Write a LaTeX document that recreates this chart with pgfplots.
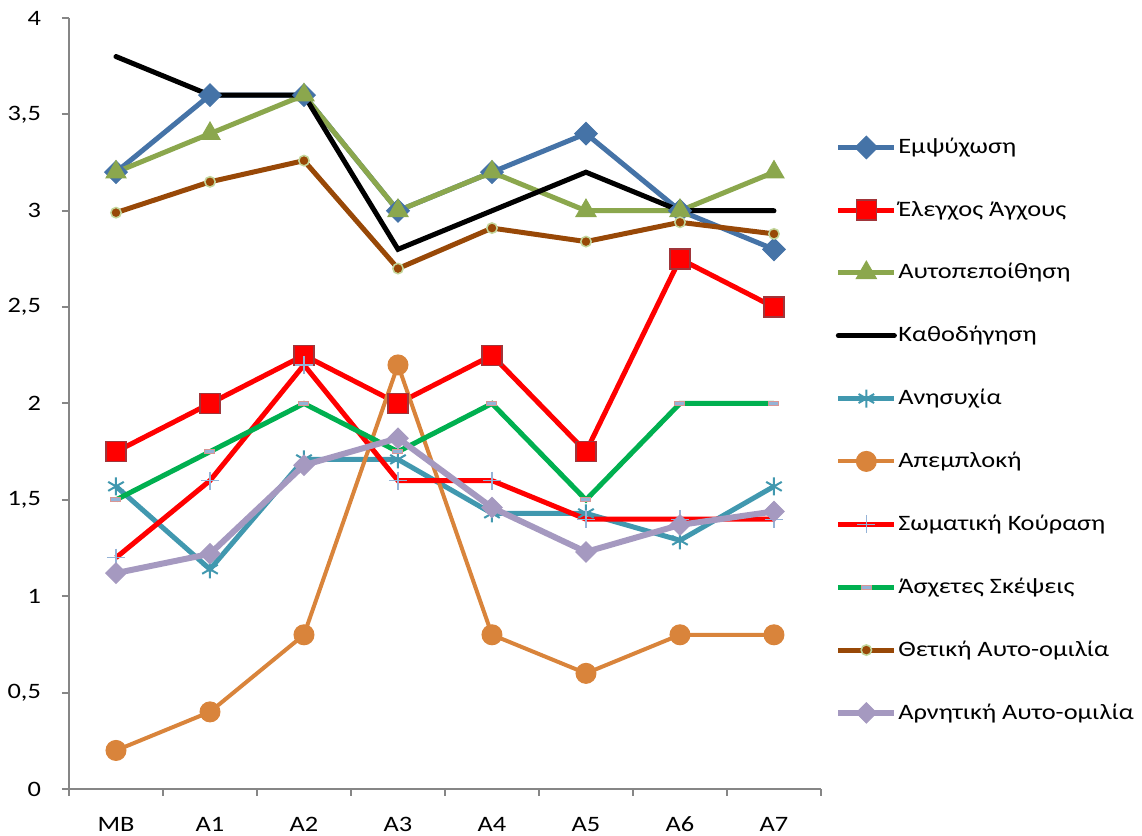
\documentclass[border=0pt]{standalone}
\usepackage{fontspec}
\setmainfont{Carlito}[FakeStretch=1.2]
\usepackage{pgfplots}
\pgfplotsset{compat=1.18}
\definecolor{cblue}{HTML}{4573A7}
\definecolor{cred}{HTML}{FF0000}
\definecolor{cdred}{HTML}{A0353A}
\definecolor{colive}{HTML}{8BA74D}
\definecolor{cteal}{HTML}{4198AF}
\definecolor{corange}{HTML}{D9843B}
\definecolor{cgreen}{HTML}{00B050}
\definecolor{cbrown}{HTML}{984807}
\definecolor{clgreen}{HTML}{C3D69B}
\definecolor{clav}{HTML}{A599C0}
\definecolor{cltblue}{HTML}{95B3D7}
\definecolor{cpink}{HTML}{D99694}
\definecolor{caxis}{HTML}{868686}
\begin{document}
\begin{tikzpicture}
\useasboundingbox (-34.5pt,-23.5pt) rectangle (536.5pt,394.5pt);
\begin{axis}[
  at={(0,0)}, anchor=south west,
  width=376pt, height=385.5pt, scale only axis,
  xmin=-0.5, xmax=7.5, ymin=0, ymax=4,
  xtick={0,...,7}, xticklabels={MB,A1,A2,A3,A4,A5,A6,A7},
  major x tick style={draw=none},
  minor xtick={-0.5,0.5,...,7.5},
  ytick={0,0.5,...,4},
  axis lines*=left,
  axis line style={caxis, line width=1pt},
  tick style={caxis, line width=1pt},
  tick align=outside,
  major tick length=3.5pt, minor tick length=3.5pt,
  /pgf/number format/use comma,
  /pgf/number format/assume math mode=true,
  tick label style={font=\fontsize{11}{13}\selectfont},
  yticklabel style={xshift=-7pt},
  xticklabel style={yshift=-7pt},
  clip=false,
  legend cell align=left,
  legend style={draw=none, fill=none, at={(1.0106,0.855)}, anchor=north west,
    font=\fontsize{11}{13}\selectfont, row sep=18.2pt,
    nodes={inner xsep=0.5pt}},
  legend image code/.code={\draw[mark repeat=2,mark phase=2,#1] plot coordinates {(0pt,0pt) (14pt,0pt) (28pt,0pt)};},
]
\addplot[cblue, line width=2.5pt, mark=square*, mark size=4pt, mark options={rotate=45, solid, line width=0.5pt, fill=cblue, draw=cblue}]
  coordinates {(0,3.2) (1,3.6) (2,3.6) (3,3.0) (4,3.2) (5,3.4) (6,3.0) (7,2.8)};
\addlegendentry{Εμψύχωση}
\addplot[cred, line width=2.5pt, mark=square*, mark size=5pt, mark options={solid, line width=0.75pt, fill=cred, draw=cdred}]
  coordinates {(0,1.75) (1,2.0) (2,2.25) (3,2.0) (4,2.25) (5,1.75) (6,2.75) (7,2.5)};
\addlegendentry{Έλεγχος Άγχους}
\addplot[colive, line width=2.5pt, mark=triangle*, mark size=5.8pt, mark options={solid, line width=0.5pt, fill=colive, draw=colive}]
  coordinates {(0,3.2) (1,3.4) (2,3.6) (3,3.0) (4,3.2) (5,3.0) (6,3.0) (7,3.2)};
\addlegendentry{Αυτοπεποίθηση}
\addplot[black, line width=2.5pt, line cap=round, no marks]
  coordinates {(0,3.8) (1,3.6) (2,3.6) (3,2.8) (4,3.0) (5,3.2) (6,3.0) (7,3.0)};
\addlegendentry{Καθοδήγηση}
\addplot[cteal, line width=2.5pt, mark=asterisk, mark size=4.5pt, mark options={solid, line width=1pt, draw=cteal}]
  coordinates {(0,1.57) (1,1.14) (2,1.71) (3,1.71) (4,1.43) (5,1.43) (6,1.29) (7,1.57)};
\addlegendentry{Ανησυχία}
\addplot[corange, line width=2pt, mark=*, mark size=5pt, mark options={solid, line width=0.5pt, fill=corange, draw=corange}]
  coordinates {(0,0.2) (1,0.4) (2,0.8) (3,2.2) (4,0.8) (5,0.6) (6,0.8) (7,0.8)};
\addlegendentry{Απεμπλοκή}
\addplot[cred, line width=2.5pt, mark=+, mark size=4.5pt, mark options={solid, line width=0.6pt, draw=cltblue}]
  coordinates {(0,1.2) (1,1.6) (2,2.2) (3,1.6) (4,1.6) (5,1.4) (6,1.4) (7,1.4)};
\addlegendentry{Σωματική Κούραση}
\addplot[cgreen, line width=2.5pt, mark=square*, mark size=1pt, mark options={solid, xscale=2.5, line width=0.5pt, fill=cltblue, draw=cpink}]
  coordinates {(0,1.5) (1,1.75) (2,2.0) (3,1.75) (4,2.0) (5,1.5) (6,2.0) (7,2.0)};
\addlegendentry{Άσχετες Σκέψεις}
\addplot[cbrown, line width=2.5pt, mark=*, mark size=2.6pt, mark options={solid, line width=0.75pt, fill=cbrown, draw=clgreen}]
  coordinates {(0,2.99) (1,3.15) (2,3.26) (3,2.70) (4,2.91) (5,2.84) (6,2.94) (7,2.88)};
\addlegendentry{Θετική Αυτο-ομιλία}
\addplot[clav, line width=3pt, mark=square*, mark size=3.6pt, mark options={rotate=45, solid, line width=0.5pt, fill=clav, draw=clav}]
  coordinates {(0,1.12) (1,1.22) (2,1.68) (3,1.82) (4,1.46) (5,1.23) (6,1.37) (7,1.44)};
\addlegendentry{Αρνητική Αυτο-ομιλία}
\end{axis}
\end{tikzpicture}
\end{document}
